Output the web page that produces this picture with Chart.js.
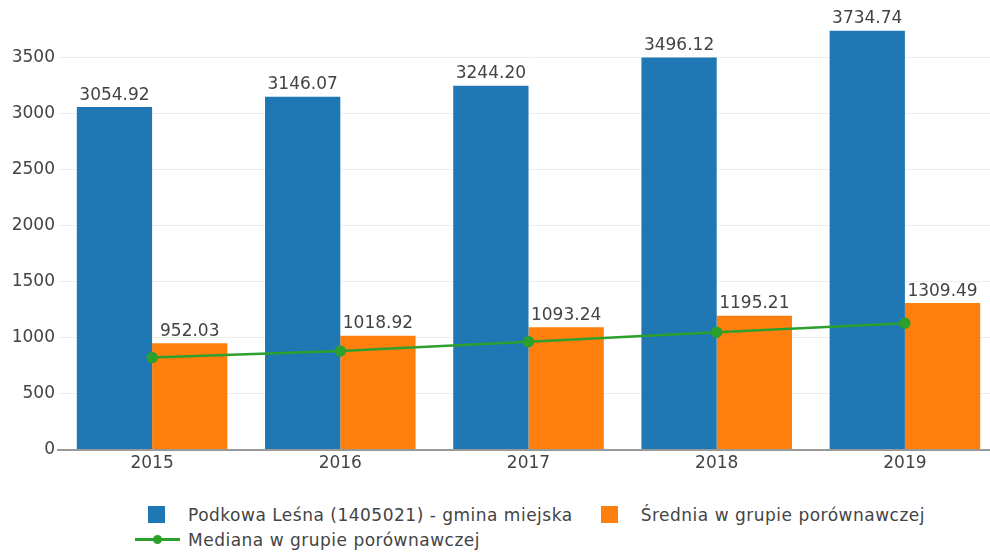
<!DOCTYPE html>
<html>
<head>
<meta charset="utf-8">
<script src="https://cdn.jsdelivr.net/npm/chart.js@4"></script>
<style>
    body { margin: 0; background: #fff; overflow: hidden; }
    #wrap { position: relative; width: 990px; height: 554px; overflow: hidden; }
    #box { position: absolute; left: 0; top: 0; width: 1010px; height: 490px; }
    #legend { position: absolute; left: 135px; top: 502px; width: 820px; display: flex; flex-wrap: wrap; column-gap: 15px;
        font: 17px 'DejaVu Sans'; letter-spacing: 0.5px; color: #444; }
    .item { display: flex; align-items: center; height: 25px; }
    .sym { position: relative; width: 45px; height: 25px; margin-right: 8px; }
    .sq { position: absolute; left: 13px; top: 4px; width: 17px; height: 17px; }
    .ln { position: absolute; left: 0; top: 11px; width: 45px; height: 3px; }
    .dot { position: absolute; left: 18px; top: 8px; width: 9px; height: 9px; border-radius: 50%; }
</style>
</head>
<body>
<div id="wrap">
    <div id="box"><canvas id="chart"></canvas></div>
    <div id="legend"></div>
</div>
<script>
'use strict';

const years = ['2015', '2016', '2017', '2018', '2019'];
const gminaValues = [3054.92, 3146.07, 3244.20, 3496.12, 3734.74];
const sredniaValues = [952.03, 1018.92, 1093.24, 1195.21, 1309.49];
const medianaValues = [823, 882, 965, 1049, 1129];
const yTickTop = 3500;

const FONT = 'DejaVu Sans';
const TEXT = '#444';

// value labels above the bars
const barLabels = {
    'id': 'barLabels',
    afterDatasetsDraw(chart) {
        const ctx = chart.ctx;
        ctx.save();
        ctx.font = '17px "' + FONT + '"';
        ctx.fillStyle = TEXT;
        ctx.textAlign = 'center';
        ctx.textBaseline = 'alphabetic';
        chart.data.datasets.forEach((ds, i) => {
            if (ds.type !== 'bar') return;
            chart.getDatasetMeta(i).data.forEach((el, j) => {
                ctx.fillText(ds.data[j].toFixed(2), el.x, el.y - 7.5);
            });
        });
        ctx.restore();
    }
};

const chart = new Chart(document.getElementById('chart'), {
    'type': 'bar',
    'data': {
        'labels': years,
        'datasets': [
            {
                'type': 'line',
                'label': 'Mediana w grupie porównawczej',
                'data': medianaValues,
                'borderColor': '#2ca02c',
                'backgroundColor': '#2ca02c',
                'borderWidth': 2.5,
                'pointRadius': 4.5,
                'order': 0
            },
            {
                'type': 'bar',
                'label': 'Podkowa Leśna (1405021) - gmina miejska',
                'data': gminaValues,
                'backgroundColor': '#1f77b4',
                'categoryPercentage': 0.8,
                'barPercentage': 1.0,
                'order': 1
            },
            {
                'type': 'bar',
                'label': 'Średnia w grupie porównawczej',
                'data': sredniaValues,
                'backgroundColor': '#ff7f0e',
                'categoryPercentage': 0.8,
                'barPercentage': 1.0,
                'order': 1
            }
        ]
    },
    'options': {
        'responsive': true,
        'maintainAspectRatio': false,
        'animation': false,
        'layout': { 'autoPadding': false, 'padding': { 'top': 1, 'right': 11, 'left': 0, 'bottom': 0 } },
        'plugins': { 'legend': { 'display': false }, 'tooltip': { 'enabled': false } },
        'scales': {
            'x': {
                'offset': true,
                'grid': { 'display': false, 'drawTicks': false },
                'border': { 'display': true, 'color': '#999', 'width': 2, 'z': 1 },
                'ticks': { 'color': TEXT, 'font': { 'family': FONT, 'size': 17 }, 'padding': 3, 'maxRotation': 0 },
                afterFit(s) { s.height = 40; s.paddingLeft = 0; s.paddingRight = 0; }
            },
            'y': {
                'min': 0,
                'max': 4000,
                'grid': { 'color': (c) => (c.tick && c.tick.value === 0 ? 'rgba(0,0,0,0)' : '#eee'), 'drawTicks': false },
                'border': { 'display': false },
                'ticks': {
                    'stepSize': 500,
                    'color': TEXT,
                    'font': { 'family': FONT, 'size': 17 },
                    'padding': 3,
                    'callback': (v) => String(v)
                },
                afterBuildTicks(s) { s.ticks = s.ticks.filter((t) => t.value <= yTickTop); },
                afterFit(s) { s.width = 58; s.paddingTop = 0; s.paddingBottom = 0; }
            }
        }
    },
    'plugins': [barLabels]
});

// legend in plotly order: bars first, then the median line
const legend = document.getElementById('legend');
[1, 2, 0].forEach((i) => {
    const ds = chart.data.datasets[i];
    const item = document.createElement('div');
    item.className = 'item';
    const sym = document.createElement('div');
    sym.className = 'sym';
    if (ds.type === 'bar') {
        sym.innerHTML = '<span class="sq" style="background:' + ds.backgroundColor + '"></span>';
    } else {
        sym.innerHTML = '<span class="ln" style="background:' + ds.borderColor + '"></span>' +
            '<span class="dot" style="background:' + ds.borderColor + '"></span>';
    }
    const txt = document.createElement('span');
    txt.textContent = ds.label;
    item.appendChild(sym);
    item.appendChild(txt);
    legend.appendChild(item);
});
</script>
</body>
</html>
